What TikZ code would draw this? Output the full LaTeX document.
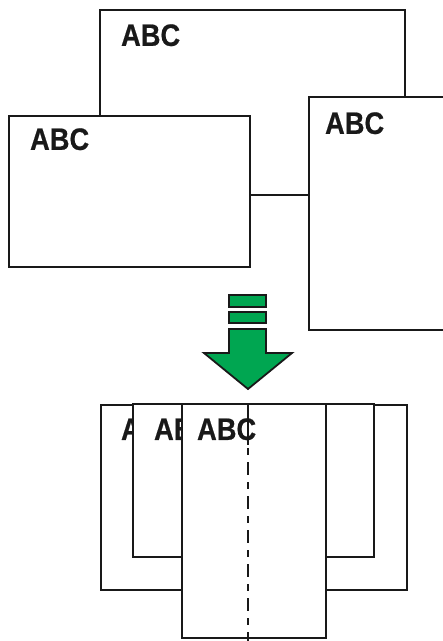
\documentclass[tikz,border=0pt]{standalone}
\usepackage{fontspec}
\setmainfont{Liberation Sans}
\newfontfamily\tagfont{Liberation Sans}[BoldFeatures={FakeBold=0.6}]
\usetikzlibrary{positioning,calc}
\definecolor{ArrowGreen}{HTML}{00A651}
\newcommand{\sheettext}{\scalebox{0.88}[1]{ABC}}

\begin{document}
\begin{tikzpicture}[x=1pt,y=-1pt,
    sheet/.style={draw=black!90,fill=white,line width=2.2pt,inner sep=0pt,rectangle},
    tag/.style={font=\fontsize{31}{31}\tagfont\bfseries,inner sep=0pt,anchor=base west,text=black!90},
    bar/.style={draw=black!90,fill=ArrowGreen,line width=1.8pt,line join=miter},
    fold/.style={draw=black!90,line width=2.2pt}]
    \clip (0,0) rectangle (443,641);
    % before
    \node[sheet,minimum width=305pt,minimum height=185pt] (back) at (252.5,102.5) {};
    \node[tag] (back tag) at ($(back.north west)+(22,37)$) {\sheettext};
    \node[sheet,minimum width=241pt,minimum height=151pt] (left) at (129.5,191.5) {};
    \node[tag] (left tag) at ($(left.north west)+(22,35)$) {\sheettext};
    \node[sheet,minimum width=161pt,minimum height=233pt] (right) at (389.5,213.5) {};
    \node[tag] (right tag) at ($(right.north west)+(17,38)$) {\sheettext};
    % arrow
    \draw[bar] (229,295) rectangle (266,307);
    \draw[bar] (229,312) rectangle (266,323);
    \draw[bar] (229,329)--(266,329)--(266,353)--(292,353)
        --(248,389)--(204,353)--(229,353)--cycle;
    % after
    \node[sheet,minimum width=306pt,minimum height=185pt] (outer) at (254,497.5) {};
    \node[tag] (outer tag) at ($(outer.north west)+(21,36)$) {\sheettext};
    \node[sheet,minimum width=241pt,minimum height=153pt] (middle) at (253.5,480.5) {};
    \node[tag] (middle tag) at ($(middle.north west)+(22,37)$) {\sheettext};
    \node[sheet,minimum width=144pt,minimum height=234pt] (front) at (254,521) {};
    \node[tag] (front tag) at ($(front.north west)+(16,37)$) {\sheettext};
    \coordinate (fold top) at (248,404);
    \coordinate (fold mid) at (248,445);
    \coordinate (fold end) at (248,641);
    \draw[fold] (fold top)--(fold mid);
    \draw[fold,dash pattern=on 7pt off 7pt on 13pt off 7pt] ($(fold mid)+(0,3)$)--(fold end);
\end{tikzpicture}
\end{document}
